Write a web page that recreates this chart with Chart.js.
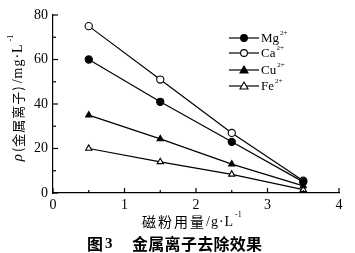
<!DOCTYPE html>
<html><head><meta charset="utf-8">
<script src="https://cdn.jsdelivr.net/npm/chart.js@4/dist/chart.umd.min.js"></script>
<style>html,body{margin:0;padding:0;background:#fff;}canvas{display:block;}</style>
</head><body>
<canvas id="c" width="355" height="253"></canvas>
<script>
const dosage = [0.5, 1.5, 2.5, 3.5];
const mg = [60, 41, 23, 5];
const ca = [75, 51, 27, 5.5];
const cu = [35, 24.3, 13, 3.2];
const fe = [20, 14, 8.4, 1.5];
const ionNames = ['Mg', 'Ca', 'Cu', 'Fe'];
const ionCharge = '2+';
const xTicks = [0, 1, 2, 3, 4];
const yTicks = [0, 20, 40, 60, 80];
const yTitleParts = ['ρ', '(金属离子)', '/mg·L', '-1'];
const xTitleParts = ['磁粉用量', '/g·L', '-1'];
const captionParts = ['图', '3', '金属离子去除效果'];

const serif = '"Liberation Serif", "DejaVu Serif", serif';
const cjk = '"Noto Sans CJK SC", sans-serif';

function mk(label, data, style, fill){
  return {label, data: dosage.map((x,i)=>({x, y:data[i]})), borderColor:'#000', borderWidth:1.2,
    pointStyle:style, pointRadius:3.6, pointBackgroundColor:fill, pointBorderColor:'#000', pointBorderWidth:1.1,
    showLine:true, tension:0};
}

const decor = {
  id:'decor',
  afterDraw(chart){
    const ctx = chart.ctx, xs = chart.scales.x, ys = chart.scales.y;
    const x0 = xs.left, y0 = ys.bottom;
    ctx.save();
    ctx.strokeStyle = '#000'; ctx.lineWidth = 1.2;
    for (let v=0; v<=4.001; v+=0.5){
      const p = xs.getPixelForValue(v); const L = (Math.abs(v-Math.round(v))<1e-6)?5:3;
      ctx.beginPath(); ctx.moveTo(p, y0); ctx.lineTo(p, y0-L); ctx.stroke();
    }
    for (let v=0; v<=80.001; v+=10){
      const p = ys.getPixelForValue(v); const L = (v%20===0)?5:3;
      ctx.beginPath(); ctx.moveTo(x0, p); ctx.lineTo(x0+L, p); ctx.stroke();
    }
    // legend
    const fills = ['#000','#fff','#000','#fff'];
    const styles = ['circle','circle','triangle','triangle'];
    const rows = [38, 53, 70, 86];
    for (let i=0;i<4;i++){
      const y = rows[i];
      ctx.beginPath(); ctx.moveTo(229,y); ctx.lineTo(259,y); ctx.stroke();
      ctx.fillStyle = fills[i]; ctx.lineWidth = 1.1;
      if (styles[i]==='circle'){ ctx.beginPath(); ctx.arc(244,y,3.4,0,Math.PI*2); ctx.fill(); ctx.stroke(); }
      else { ctx.beginPath(); ctx.moveTo(244,y-4); ctx.lineTo(248,y+3); ctx.lineTo(240,y+3); ctx.closePath(); ctx.fill(); ctx.stroke(); }
      ctx.lineWidth = 1.2;
      ctx.fillStyle = '#000'; ctx.font = '13px '+serif; ctx.textAlign='left'; ctx.textBaseline='middle';
      ctx.fillText(ionNames[i], 261, y+1);
      const w = ctx.measureText(ionNames[i]).width;
      ctx.font = '7px '+serif; ctx.fillText(ionCharge, 261+w+1, y-5);
    }
    // y title (rotated)
    ctx.save();
    ctx.translate(18, 98); ctx.rotate(-Math.PI/2);
    ctx.textBaseline='middle'; ctx.textAlign='left';
    const parts = [[yTitleParts[0], 'italic 15px '+serif, '0px'], [yTitleParts[1], '13px '+cjk, '1px'], [yTitleParts[2], '14px '+serif, '1px']];
    let total = 0;
    parts.forEach(p=>{ctx.font=p[1]; ctx.letterSpacing=p[2]; total+=ctx.measureText(p[0]).width+2;});
    ctx.letterSpacing='0px'; ctx.font='8px '+serif; total += ctx.measureText(yTitleParts[3]).width;
    let cx = -total/2;
    parts.forEach(p=>{ctx.font=p[1]; ctx.letterSpacing=p[2]; ctx.fillText(p[0], cx, 0); cx+=ctx.measureText(p[0]).width+2;});
    ctx.letterSpacing='0px';
    ctx.font='8px '+serif; ctx.fillText(yTitleParts[3], cx, -7);
    ctx.restore();
    // x title
    ctx.textBaseline='middle'; ctx.textAlign='left';
    ctx.font = '14px '+cjk; ctx.letterSpacing = '2px';
    const w1 = ctx.measureText(xTitleParts[0]).width;
    ctx.letterSpacing='1px'; ctx.font = '14px '+serif;
    const w2 = ctx.measureText(xTitleParts[1]).width;
    let sx = 142;
    ctx.font = '14px '+cjk; ctx.letterSpacing='2px'; ctx.fillText(xTitleParts[0], sx, 222);
    ctx.letterSpacing='1px';
    ctx.font = '14px '+serif; ctx.fillText(xTitleParts[1], sx+w1, 222);
    ctx.letterSpacing='0px';
    ctx.font = '8px '+serif; ctx.fillText(xTitleParts[2], sx+w1+w2+1, 215);
    // caption
    ctx.font = 'bold 16px '+cjk; ctx.textAlign='left';
    ctx.fillText(captionParts[0], 87, 244);
    ctx.font = 'bold 15px '+serif; ctx.fillText(captionParts[1], 105, 244);
    ctx.font = 'bold 16px '+cjk; ctx.letterSpacing='0.3px';
    ctx.fillText(captionParts[2], 132, 244);
    ctx.restore();
  }
};

new Chart(document.getElementById('c'), {
  type:'scatter',
  data:{datasets:[
    mk('Mg2+', mg, 'circle', '#000'),
    mk('Ca2+', ca, 'circle', '#fff'),
    mk('Cu2+', cu, 'triangle', '#000'),
    mk('Fe2+', fe, 'triangle', '#fff')
  ]},
  options:{
    responsive:false, animation:false, devicePixelRatio:1,
    layout:{padding:{left:0, top:15, right:16, bottom:0}},
    plugins:{legend:{display:false}, tooltip:{enabled:false}},
    scales:{
      x:{type:'linear', min:0, max:4,
        afterBuildTicks(s){ s.ticks = xTicks.map(v=>({value:v})); },
        afterFit(s){ s.height = 60; },
        grid:{display:false, drawTicks:false}, border:{display:true, color:'#000', width:1.2},
        ticks:{color:'#000', padding:4, font:{family:serif, size:14}}},
      y:{type:'linear', min:0, max:80,
        afterBuildTicks(s){ s.ticks = yTicks.map(v=>({value:v})); },
        afterFit(s){ s.width = 53; },
        grid:{display:false, drawTicks:false}, border:{display:true, color:'#000', width:1.2},
        ticks:{color:'#000', padding:5, font:{family:serif, size:14}}}
    }
  },
  plugins:[decor]
});
</script>
</body></html>
